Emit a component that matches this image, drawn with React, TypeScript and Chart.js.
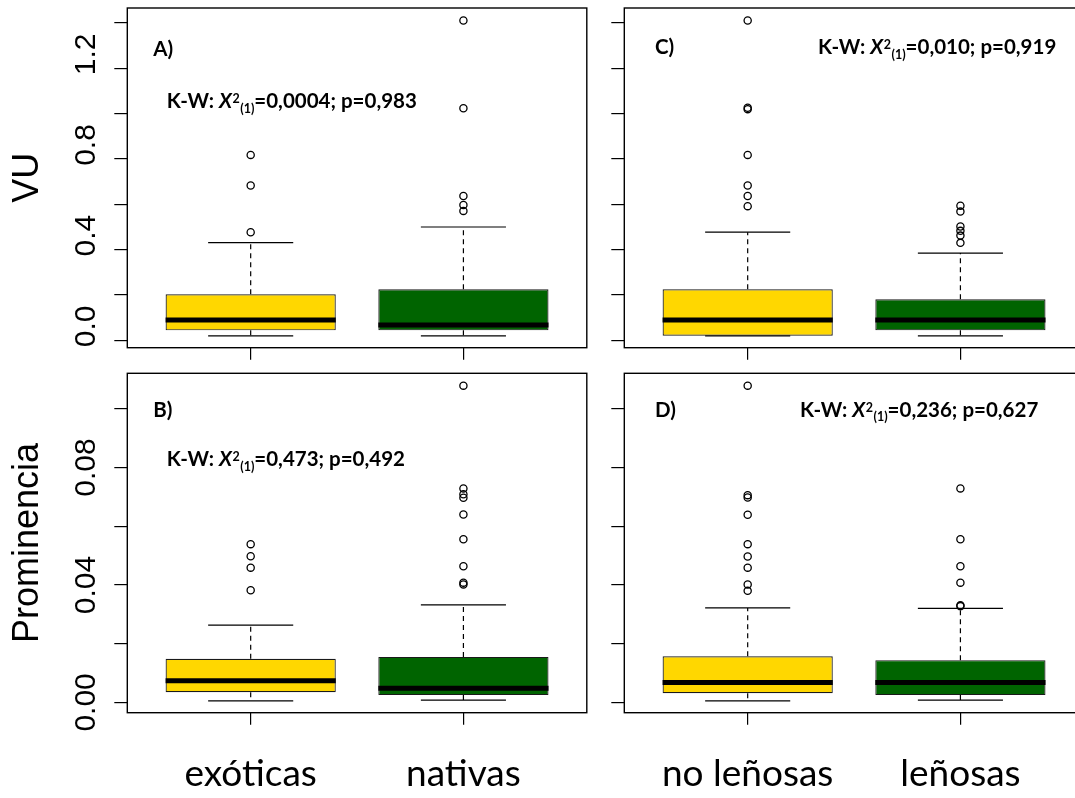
import React, { useEffect, useRef } from "react";
import { Chart, registerables } from "chart.js";

Chart.register(...registerables);

// ---------- categories ----------
const originGroups = ["exóticas", "nativas"];
const habitGroups = ["no leñosas", "leñosas"];
const groupPositions = [1, 2];
const groupColors = ["#FFD700", "#006400"];

// ---------- box statistics: [lower whisker, Q1, median, Q3, upper whisker] ----------
const vuExoticas = [0.02, 0.044, 0.09, 0.203, 0.431];
const vuNativas = [0.02, 0.044, 0.068, 0.225, 0.5];
const vuNoLenosas = [0.02, 0.02, 0.09, 0.225, 0.477];
const vuLenosas = [0.02, 0.044, 0.09, 0.181, 0.385];
const promExoticas = [0.00055, 0.0035, 0.0074, 0.0149, 0.0263];
const promNativas = [0.00078, 0.0025, 0.0048, 0.0155, 0.0332];
const promNoLenosas = [0.00055, 0.0031, 0.0068, 0.0157, 0.0322];
const promLenosas = [0.00078, 0.0025, 0.0068, 0.0144, 0.032];

// ---------- outliers ----------
const vuExoticasOut = [0.818, 0.683, 0.477];
const vuNativasOut = [1.411, 1.024, 0.637, 0.597, 0.571];
const vuNoLenosasOut = [1.411, 1.026, 1.02, 0.818, 0.683, 0.637, 0.592];
const vuLenosasOut = [0.594, 0.568, 0.502, 0.483, 0.462, 0.43];
const promExoticasOut = [0.0539, 0.0498, 0.0459, 0.0382];
const promNativasOut = [0.1079, 0.0729, 0.0709, 0.0697, 0.064, 0.0556, 0.0464, 0.0408, 0.0402];
const promNoLenosasOut = [0.1079, 0.0706, 0.0698, 0.0639, 0.0539, 0.0497, 0.0459, 0.0402, 0.038];
const promLenosasOut = [0.0729, 0.0556, 0.0464, 0.0408, 0.0331, 0.0328];

// ---------- axes ----------
const vuTicks = [0, 0.2, 0.4, 0.6, 0.8, 1.0, 1.2, 1.4];
const vuTickLabels = ["0.0", "", "0.4", "", "0.8", "", "1.2", ""];
const promTicks = [0, 0.02, 0.04, 0.06, 0.08, 0.1];
const promTickLabels = ["0.00", "", "0.04", "", "0.08", ""];
const vuRange = [-0.0325, 1.4662];
const promRange = [-0.0035, 0.1121];
const xRange = [0.42, 2.58];

// ---------- annotations ----------
const panelLetters = ["A)", "B)", "C)", "D)"];
const kwChi = ["0,0004", "0,473", "0,010", "0,236"];
const kwP = ["0,983", "0,492", "0,919", "0,627"];
const yTitles = ["VU", "Prominencia"];

type PanelSpec = {
  key: string;
  left: number;
  top: number;
  width: number;
  height: number;
  plot: { l: number; t: number; r: number; b: number };
  groups: string[];
  stats: number[][];
  outliers: number[][];
  ticks: number[];
  tickLabels: string[];
  range: number[];
  showYLabels: boolean;
  yLabelPadding: number;
  yLabelOffset: number;
  yTitle: string;
  showXLabels: boolean;
  letter: string;
  letterPos: number[];
  chi: string;
  p: string;
  kwPos: number[];
};

const PANELS: PanelSpec[] = [
  {
    key: "A", left: 0, top: 0, width: 600, height: 362,
    plot: { l: 127.3, t: 8, r: 586.8, b: 347.7 },
    groups: originGroups, stats: [vuExoticas, vuNativas], outliers: [vuExoticasOut, vuNativasOut],
    ticks: vuTicks, tickLabels: vuTickLabels, range: vuRange,
    showYLabels: true, yLabelPadding: 6.5, yLabelOffset: -14, yTitle: yTitles[0], showXLabels: false,
    letter: panelLetters[0], letterPos: [153.3, 56], chi: kwChi[0], p: kwP[0], kwPos: [166.7, 108.3],
  },
  {
    key: "B", left: 0, top: 362, width: 600, height: 436,
    plot: { l: 127.3, t: 11.3, r: 586.8, b: 350.7 },
    groups: originGroups, stats: [promExoticas, promNativas], outliers: [promExoticasOut, promNativasOut],
    ticks: promTicks, tickLabels: promTickLabels, range: promRange,
    showYLabels: true, yLabelPadding: -1.9, yLabelOffset: 0, yTitle: yTitles[1], showXLabels: true,
    letter: panelLetters[1], letterPos: [153.3, 54.7], chi: kwChi[1], p: kwP[1], kwPos: [166.7, 104],
  },
  {
    key: "C", left: 600, top: 0, width: 500, height: 362,
    plot: { l: 24.3, t: 8, r: 483.8, b: 347.7 },
    groups: habitGroups, stats: [vuNoLenosas, vuLenosas], outliers: [vuNoLenosasOut, vuLenosasOut],
    ticks: vuTicks, tickLabels: vuTickLabels, range: vuRange,
    showYLabels: false, yLabelPadding: 0, yLabelOffset: 0, yTitle: "", showXLabels: false,
    letter: panelLetters[2], letterPos: [55, 54], chi: kwChi[2], p: kwP[2], kwPos: [218, 54],
  },
  {
    key: "D", left: 600, top: 362, width: 500, height: 436,
    plot: { l: 24.3, t: 11.3, r: 483.8, b: 350.7 },
    groups: habitGroups, stats: [promNoLenosas, promLenosas], outliers: [promNoLenosasOut, promLenosasOut],
    ticks: promTicks, tickLabels: promTickLabels, range: promRange,
    showYLabels: false, yLabelPadding: 0, yLabelOffset: 0, yTitle: "", showXLabels: true,
    letter: panelLetters[3], letterPos: [55, 54.7], chi: kwChi[3], p: kwP[3], kwPos: [200, 54.7],
  },
];

const MAIN_FONT = "bold 20.5px Lato";
const SMALL_FONT = "bold 12.5px Lato";

function drawKW(ctx: CanvasRenderingContext2D, x0: number, y: number, chi: string, p: string) {
  let x = x0;
  ctx.save();
  ctx.fillStyle = "#000";
  ctx.textAlign = "left";
  ctx.textBaseline = "alphabetic";
  ctx.font = MAIN_FONT;
  const a = "K-W: ";
  ctx.fillText(a, x, y);
  x += ctx.measureText(a).width;
  ctx.font = "italic " + MAIN_FONT;
  ctx.fillText("X", x, y);
  x += ctx.measureText("X").width + 0.5;
  ctx.font = SMALL_FONT;
  ctx.fillText("2", x, y - 5);
  x += ctx.measureText("2").width + 0.5;
  ctx.fillText("(1)", x, y + 4.5);
  x += ctx.measureText("(1)").width;
  ctx.font = MAIN_FONT;
  ctx.fillText("=" + chi + "; p=" + p, x, y);
  ctx.restore();
}

function Panel({ spec }: { spec: PanelSpec }) {
  const ref = useRef<HTMLCanvasElement | null>(null);

  useEffect(() => {
    const canvas = ref.current;
    if (!canvas) return;
    const s = spec;

    const boxPlugin = {
      id: "boxParts" + s.key,
      beforeDatasetsDraw(chart: any) {
        const xs = chart.scales.x;
        const ys = chart.scales.y;
        const ctx: CanvasRenderingContext2D = chart.ctx;
        ctx.save();
        ctx.strokeStyle = "#000";
        groupPositions.forEach((pos, i) => {
          const st = s.stats[i];
          const cx = xs.getPixelForValue(pos);
          const capL = xs.getPixelForValue(pos - 0.2);
          const capR = xs.getPixelForValue(pos + 0.2);
          ctx.lineWidth = 1.2;
          ctx.setLineDash([5, 4]);
          ctx.beginPath();
          ctx.moveTo(cx, ys.getPixelForValue(st[3]));
          ctx.lineTo(cx, ys.getPixelForValue(st[4]));
          ctx.moveTo(cx, ys.getPixelForValue(st[1]));
          ctx.lineTo(cx, ys.getPixelForValue(st[0]));
          ctx.stroke();
          ctx.setLineDash([]);
          ctx.beginPath();
          ctx.moveTo(capL, ys.getPixelForValue(st[4]));
          ctx.lineTo(capR, ys.getPixelForValue(st[4]));
          ctx.moveTo(capL, ys.getPixelForValue(st[0]));
          ctx.lineTo(capR, ys.getPixelForValue(st[0]));
          ctx.stroke();
        });
        ctx.restore();
      },
      afterDatasetsDraw(chart: any) {
        const xs = chart.scales.x;
        const ys = chart.scales.y;
        const ctx: CanvasRenderingContext2D = chart.ctx;
        ctx.save();
        ctx.strokeStyle = "#000";
        ctx.lineWidth = 5;
        groupPositions.forEach((pos, i) => {
          const y = ys.getPixelForValue(s.stats[i][2]);
          ctx.beginPath();
          ctx.moveTo(xs.getPixelForValue(pos - 0.4), y);
          ctx.lineTo(xs.getPixelForValue(pos + 0.4), y);
          ctx.stroke();
        });
        ctx.restore();
      },
      afterDraw(chart: any) {
        const ctx: CanvasRenderingContext2D = chart.ctx;
        const a = chart.chartArea;
        ctx.save();
        ctx.strokeStyle = "#000";
        ctx.lineWidth = 1.4;
        ctx.strokeRect(a.left, a.top, a.right - a.left, a.bottom - a.top);
        ctx.fillStyle = "#000";
        ctx.font = MAIN_FONT;
        ctx.textAlign = "left";
        ctx.textBaseline = "alphabetic";
        ctx.fillText(s.letter, s.letterPos[0], s.letterPos[1]);
        ctx.restore();
        drawKW(ctx, s.kwPos[0], s.kwPos[1], s.chi, s.p);
      },
    };

    const boxData = groupPositions.map((x, i) => ({ x, y: [s.stats[i][1], s.stats[i][3]] }));
    const outData: { x: number; y: number }[] = [];
    groupPositions.forEach((x, i) => s.outliers[i].forEach((v) => outData.push({ x, y: v })));

    const chart = new Chart(canvas, {
      type: "bar",
      data: {
        datasets: [
          {
            type: "bar",
            data: boxData as any,
            backgroundColor: groupColors,
            borderColor: "#1a1a1a",
            borderWidth: 1.2,
            borderSkipped: false,
            categoryPercentage: 1,
            barPercentage: 0.8,
            order: 2,
          } as any,
          {
            type: "scatter",
            data: outData as any,
            pointRadius: 3.6,
            pointBorderWidth: 1.3,
            pointBorderColor: "#000",
            pointBackgroundColor: "rgba(0,0,0,0)",
            showLine: false,
            order: 1,
          } as any,
        ],
      },
      options: {
        responsive: false,
        maintainAspectRatio: false,
        animation: false,
        events: [],
        layout: { padding: { left: 0, top: s.plot.t, right: s.width - s.plot.r, bottom: 0 } },
        plugins: { legend: { display: false }, tooltip: { enabled: false }, title: { display: false } },
        scales: {
          x: {
            type: "linear",
            min: xRange[0],
            max: xRange[1],
            offset: false,
            afterBuildTicks: (ax: any) => {
              ax.ticks = groupPositions.map((v) => ({ value: v }));
            },
            afterFit: (ax: any) => {
              ax.height = s.height - s.plot.b;
              ax.paddingLeft = 0;
              ax.paddingRight = 0;
              ax.paddingTop = 0;
              ax.paddingBottom = 0;
            },
            grid: { drawOnChartArea: false, drawTicks: true, tickLength: 12, color: "#000", lineWidth: 1.2, offset: false },
            border: { display: false },
            ticks: {
              display: s.showXLabels,
              autoSkip: false,
              minRotation: 0,
              maxRotation: 0,
              padding: 27,
              color: "#000",
              font: { family: "Lato", size: 37 },
              callback: (_v: any, i: number) => s.groups[i],
            },
          },
          y: {
            type: "linear",
            min: s.range[0],
            max: s.range[1],
            afterBuildTicks: (ax: any) => {
              ax.ticks = s.ticks.map((v) => ({ value: v }));
            },
            afterFit: (ax: any) => {
              ax.width = s.plot.l;
              ax.paddingLeft = 0;
              ax.paddingRight = 0;
              ax.paddingTop = 0;
              ax.paddingBottom = 0;
            },
            grid: { drawOnChartArea: false, drawTicks: true, tickLength: 13, color: "#000", lineWidth: 1.2 },
            border: { display: false },
            ticks: {
              display: s.showYLabels,
              autoSkip: false,
              minRotation: 90,
              maxRotation: 90,
              crossAlign: "center",
              padding: s.yLabelPadding,
              labelOffset: s.yLabelOffset,
              color: "#000",
              font: { family: "Liberation Sans", size: 30 },
              callback: (_v: any, i: number) => s.tickLabels[i],
            },
            title: {
              display: s.yTitle !== "",
              text: s.yTitle,
              color: "#000",
              font: { family: "Liberation Sans", size: 36 },
              padding: { top: 6, bottom: 0 },
            },
          },
        },
      } as any,
      plugins: [boxPlugin],
    });

    return () => chart.destroy();
  }, [spec]);

  return (
    <canvas
      ref={ref}
      width={spec.width}
      height={spec.height}
      style={{ position: "absolute", left: spec.left, top: spec.top, width: spec.width, height: spec.height }}
    />
  );
}

export default function App() {
  return (
    <div
      style={{
        position: "fixed",
        left: 0,
        top: 0,
        width: 1075,
        height: 798,
        overflow: "hidden",
        background: "#fff",
      }}
    >
      {PANELS.map((p) => (
        <Panel key={p.key} spec={p} />
      ))}
    </div>
  );
}
